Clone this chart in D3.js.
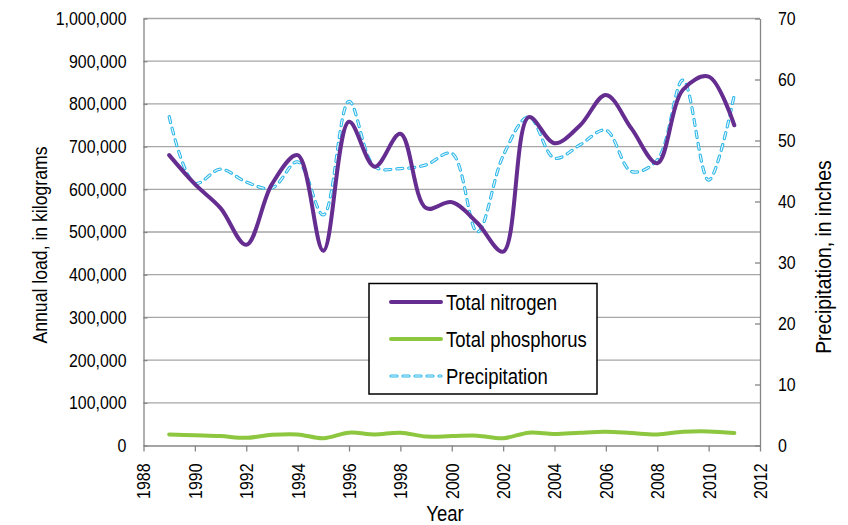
<!DOCTYPE html>
<html><head><meta charset="utf-8">
<script src="https://cdn.jsdelivr.net/npm/d3@7"></script>
<style>
html,body{margin:0;padding:0;background:#fff;}
svg text{font-family:"Liberation Sans",Arial,sans-serif;fill:#000;}
</style></head>
<body>
<svg id="chart" width="848" height="525"></svg>
<script>
const years = [1989,1990,1991,1992,1993,1994,1995,1996,1997,1998,1999,2000,2001,2002,2003,2004,2005,2006,2007,2008,2009,2010,2011];
const nitrogen = [680000,612000,556000,470000,612000,680000,456000,758000,653000,730000,556000,570000,521000,454000,769000,708000,750000,821000,742000,661000,833000,864000,750000];
const phosphorus = [26000,24000,22000,18000,25000,26000,17000,30000,26000,30000,21000,22000,23000,17000,30000,27000,30000,32000,29000,26000,32000,33000,29000];
const precipitation = [53.9,43.0,45.3,43.2,42.2,46.5,37.8,56.4,45.7,45.4,46.0,47.9,35.0,47.5,53.9,47.1,49.3,51.7,44.9,46.8,59.9,43.5,57.5];
const xTicks = [1988,1990,1992,1994,1996,1998,2000,2002,2004,2006,2008,2010,2012];
const loadTicks = [0,100000,200000,300000,400000,500000,600000,700000,800000,900000,1000000];
const precipTicks = [0,10,20,30,40,50,60,70];
const seriesNames = ["Total nitrogen","Total phosphorus","Precipitation"];

const svg = d3.select("#chart");
svg.append("rect").attr("width",848).attr("height",525).attr("fill","#fff");
const L=143.5, R=760, T=18.5, B=445.5;
const x = d3.scaleLinear().domain([1988,2012]).range([L,R]);
const yL = d3.scaleLinear().domain([0,1000000]).range([B,T]);
const yR = d3.scaleLinear().domain([0,70]).range([B,T]);
const axisColor="#868686", gridColor="#a6a6a6";

// gridlines
svg.append("g").selectAll("line").data(loadTicks.slice(1)).join("line")
  .attr("x1",L).attr("x2",R).attr("y1",d=>yL(d)).attr("y2",d=>yL(d))
  .attr("stroke",gridColor).attr("stroke-width",1.3);

// left axis
const gL = svg.append("g").attr("transform",`translate(${L},0)`)
  .call(d3.axisLeft(yL).tickValues(loadTicks).tickFormat(d3.format(",")).tickSizeInner(-4).tickSizeOuter(0).tickPadding(17));
// right axis
const gR = svg.append("g").attr("transform",`translate(${R},0)`)
  .call(d3.axisRight(yR).tickValues(precipTicks).tickSizeInner(-5).tickSizeOuter(0).tickPadding(18));
// bottom axis
const gB = svg.append("g").attr("transform",`translate(0,${B})`)
  .call(d3.axisBottom(x).tickValues(xTicks).tickFormat(d3.format("d")).tickSizeInner(6).tickSizeOuter(0));
gB.selectAll("text").attr("transform","rotate(-90)").attr("text-anchor","end")
  .attr("x",-18).attr("y",0).attr("dy","0.35em");
[gL,gR,gB].forEach(g=>{
  g.attr("font-family",null).attr("font-size",null);
  g.select(".domain").attr("stroke",axisColor).attr("stroke-width",1.3);
  g.selectAll(".tick line").attr("stroke",axisColor).attr("stroke-width",1.3);
  g.selectAll("text").attr("font-size",18.5).attr("fill","#000");
});

// titles
svg.append("text").attr("transform","translate(40,245) rotate(-90)").attr("text-anchor","middle")
  .attr("dy","0.35em").attr("font-size",20.5).text("Annual load, in kilograms");
svg.append("text").attr("transform","translate(823,257) rotate(-90)").attr("text-anchor","middle")
  .attr("dy","0.35em").attr("font-size",22.5).text("Precipitation, in inches");
svg.append("text").attr("x",445).attr("y",521).attr("text-anchor","middle")
  .attr("font-size",21.5).text("Year");

// lines
const nData = years.map((yr,i)=>({x:yr,y:nitrogen[i]}));
const pData = years.map((yr,i)=>({x:yr,y:phosphorus[i]}));
const rData = years.map((yr,i)=>({x:yr,y:precipitation[i]}));
const lineL = d3.line().x(d=>x(d.x)).y(d=>yL(d.y)).curve(d3.curveCatmullRom.alpha(0.5));
const lineR = d3.line().x(d=>x(d.x)).y(d=>yR(d.y)).curve(d3.curveCatmullRom.alpha(0.5));
const nColor="#662d91", pColor="#8dc63f", rColor="#29b6e8";

svg.append("path").datum(pData).attr("d",lineL).attr("fill","none").attr("stroke",pColor).attr("stroke-width",4).attr("stroke-linecap","round");
svg.append("path").datum(rData).attr("d",lineR).attr("fill","none").attr("stroke",rColor).attr("stroke-width",3.2)
  .attr("stroke-dasharray","6,6").attr("stroke-linecap","round");
svg.append("path").datum(rData).attr("d",lineR).attr("fill","none").attr("stroke","#e6f7fd").attr("stroke-width",1.2)
  .attr("stroke-dasharray","6,6").attr("stroke-linecap","round");
svg.append("path").datum(nData).attr("d",lineL).attr("fill","none").attr("stroke",nColor).attr("stroke-width",4).attr("stroke-linecap","round");

// legend
const lg = svg.append("g");
lg.append("rect").attr("x",369).attr("y",283.5).attr("width",228).attr("height",110.5)
  .attr("fill","#fff").attr("stroke","#000").attr("stroke-width",1.5);
const rows = [302,339,376];
seriesNames.forEach((name,i)=>{
  const yy = rows[i];
  if(i<2){
    lg.append("line").attr("x1",391).attr("x2",441).attr("y1",yy).attr("y2",yy)
      .attr("stroke",i===0?nColor:pColor).attr("stroke-width",4).attr("stroke-linecap","round");
  } else {
    lg.append("line").attr("x1",391).attr("x2",441).attr("y1",yy).attr("y2",yy)
      .attr("stroke",rColor).attr("stroke-width",3.2).attr("stroke-dasharray","6,6").attr("stroke-linecap","round");
    lg.append("line").attr("x1",391).attr("x2",441).attr("y1",yy).attr("y2",yy)
      .attr("stroke","#e6f7fd").attr("stroke-width",1.2).attr("stroke-dasharray","6,6").attr("stroke-linecap","round");
  }
  lg.append("text").attr("x",446).attr("y",yy).attr("dy","0.35em").attr("font-size",21.5).text(name);
});

// condensed look: compress glyphs horizontally
svg.selectAll("text").each(function(){
  const w = this.getComputedTextLength();
  this.setAttribute("textLength", (w*0.86).toFixed(1));
  this.setAttribute("lengthAdjust","spacingAndGlyphs");
});
</script>
</body></html>
